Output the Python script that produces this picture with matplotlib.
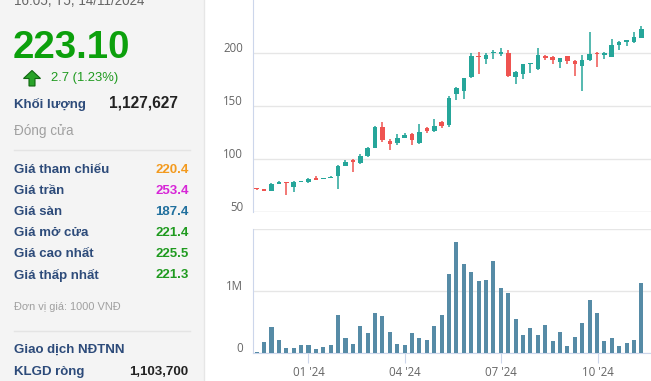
import matplotlib
matplotlib.use("Agg")
import matplotlib.pyplot as plt
import matplotlib.dates as mdates
from matplotlib.patches import Rectangle, Polygon
from matplotlib.transforms import ScaledTranslation
import pandas as pd
import numpy as np

plt.rcParams['font.family'] = ['Liberation Sans', 'DejaVu Sans']

# --- Datos semanales ---
fechas = pd.date_range('2023-11-13', periods=53, freq='7D')

aperturas = [72.5, 71.5, 69.5, 76.5, 78, 74, 78, 78, 82.5, 81.5, 82, 83.5, 93, 99, 96,
             102.5, 110, 130.5, 117, 115, 120, 123.5, 115.5, 129.5, 126, 134.5, 132.5,
             161.5, 164.5, 177, 197.5, 194.5, 200, 199.5, 200, 177.5, 180.5, 189.5,
             184.5, 197.5, 196, 191.5, 197, 192, 188, 193, 200, 198, 196.5, 208, 210,
             210, 214.5]
cierres = [71.5, 70, 76.5, 78, 77, 78.5, 78.5, 81.5, 80.5, 82, 83, 93.5, 97, 97, 103,
           110.5, 130.5, 118, 114.5, 120, 123, 117.5, 125.5, 126.5, 131.5, 131, 157.5,
           167, 176, 197, 196.5, 198.5, 201, 201, 178.5, 182, 189.5, 190, 198, 195.5,
           193.5, 195, 192.5, 189.5, 193, 199.5, 198.8, 200, 208, 210, 212, 215.5, 223.1]
maximos = [73, 72, 77, 79.5, 78.5, 79.5, 78.5, 82, 83.5, 82, 83.5, 94, 99, 100, 105,
           111.5, 131, 135, 119, 124, 124.5, 125, 133, 130, 138, 136, 159, 167.5, 176.5,
           200, 201, 200, 203, 205, 203, 183, 190, 190.5, 205, 198, 197, 195.5, 197.5,
           193, 198.5, 219.5, 200.5, 200.5, 213, 211.5, 212.5, 219.5, 225.5]
minimos = [71, 69.5, 69.5, 76, 66.5, 69, 78, 77.5, 80, 81, 82, 72, 93, 88, 95, 102, 110,
           116, 108.5, 113, 119.5, 113, 114.5, 125, 125.5, 129.5, 130.5, 156, 157, 176,
           180, 190, 194.5, 197.5, 177, 171, 175.5, 181, 184, 193.5, 189.5, 186, 189.5,
           178.5, 164.5, 192.5, 187, 194, 196, 203, 207, 209.5, 214]
volumen_m = [0.02, 0.18, 0.42, 0.205, 0.076, 0.076, 0.124, 0.124, 0.06, 0.09, 0.124,
             0.61, 0.24, 0.146, 0.43, 0.32, 0.643, 0.60, 0.335, 0.14, 0.124, 0.32, 0.24,
             0.205, 0.43, 0.61, 1.27, 1.79, 1.44, 1.30, 1.16, 1.18, 1.48, 1.05, 0.97,
             0.54, 0.29, 0.40, 0.29, 0.45, 0.19, 0.34, 0.11, 0.26, 0.48, 0.855, 0.645,
             0.19, 0.24, 0.11, 0.16, 0.21, 1.128]

etiquetas_mes = ["01 '24", "04 '24", "07 '24", "10 '24"]
fechas_mes = pd.to_datetime(['2024-01-01', '2024-04-01', '2024-07-01', '2024-10-01'])

filas = [("Giá tham chiếu", "220.4", "#f39a1e"),
         ("Giá trần", "253.4", "#d726d7"),
         ("Giá sàn", "187.4", "#21709e"),
         ("Giá mở cửa", "221.4", "#1f9a1f"),
         ("Giá cao nhất", "225.5", "#1f9a1f"),
         ("Giá thấp nhất", "221.3", "#1f9a1f")]

# --- Figura ---
W, H = 651, 381
fig = plt.figure(figsize=(W / 100, H / 100), dpi=100)
fig.patch.set_facecolor('white')


def fx(px):
    return px / W


def fy(py):
    return 1 - py / H


def pt(px):
    return px * 0.72


# panel izquierdo
fig.patches.append(Rectangle((0, 0), fx(204), 1, transform=fig.transFigure,
                             facecolor='#f4f4f4', edgecolor='none', zorder=0))
fig.lines.append(plt.Line2D([fx(204), fx(204)], [0, 1], transform=fig.transFigure,
                            color='#e6e6e6', lw=1))

azul = '#2d4b7a'
fig.text(fx(14), fy(5), "16:05, T5, 14/11/2024", fontsize=pt(13.5), color='#666666',
         va='baseline')
fig.text(fx(12.5), fy(58.5), "223.10", fontsize=pt(38.5), color='#0ca00c', va='baseline',
         fontweight='bold')

flecha = [(23.5, 78.5), (32, 70.5), (40.5, 78.5), (35, 78.5), (35, 86), (29, 86), (29, 78.5)]
fig.patches.append(Polygon([(fx(a), fy(b)) for a, b in flecha], closed=True,
                           transform=fig.transFigure, facecolor='#29a329',
                           edgecolor='#116611', lw=0.8))
fig.text(fx(50.5), fy(77.5), "2.7 (1.23%)", fontsize=pt(13), color='#1f9a1f', va='center')

fig.text(fx(14), fy(104), "Khối lượng", fontsize=pt(13.3), color=azul, va='center',
         fontweight='bold')
fig.text(fx(178), fy(103), "1,127,627", fontsize=pt(15.5), color='#222222', va='center',
         ha='right', fontweight='bold')
fig.text(fx(14), fy(131), "Đóng cửa", fontsize=pt(13.5), color='#a0a0a0', va='center')
fig.lines.append(plt.Line2D([fx(14), fx(190)], [fy(149.5)] * 2, transform=fig.transFigure,
                            color='#e4e4e4', lw=1))

for k, (nombre, valor, color) in enumerate(filas):
    yy = 170.5 + k * 20.9
    fig.text(fx(14), fy(yy), nombre, fontsize=pt(13.2), color=azul, va='center',
             fontweight='bold')
    fig.text(fx(188.5), fy(yy), valor, fontsize=pt(13.2), color=color, va='center',
             ha='right', fontweight='bold')

fig.text(fx(14), fy(307), "Đơn vị giá: 1000 VNĐ", fontsize=pt(11), color='#a0a0a0', va='center')
fig.lines.append(plt.Line2D([fx(14), fx(190)], [fy(331)] * 2, transform=fig.transFigure,
                            color='#e4e4e4', lw=1))
fig.text(fx(14), fy(350), "Giao dịch NĐTNN", fontsize=pt(13.2), color=azul, va='center',
         fontweight='bold')
fig.text(fx(14), fy(372), "KLGD ròng", fontsize=pt(13.2), color=azul, va='center',
         fontweight='bold')
fig.text(fx(188.5), fy(372), "1,103,700", fontsize=pt(13.2), color='#222222', va='center',
         ha='right', fontweight='bold')

# --- Gráfico de velas ---
x = mdates.date2num(fechas)
semana = 7.0
xmin = x[0] - 0.54 * semana
xmax = x[0] + 53.3 * semana

ax_p = fig.add_axes([fx(252.7), fy(212), 1 - fx(252.7), 212 / H])
ax_v = fig.add_axes([fx(252.7), fy(353), 1 - fx(252.7), (353 - 228.7) / H])

verde, rojo = '#26a69a', '#ef5350'
ab = np.array(aperturas)
ci = np.array(cierres)
colores = np.where(ci >= ab, verde, rojo)
ax_p.vlines(x, minimos, maximos, colors=colores, lw=1.1, zorder=3)
cuerpo = np.maximum(np.abs(ci - ab), 0.8)
ax_p.bar(x, cuerpo, bottom=np.minimum(ab, ci), width=0.62 * semana, color=colores,
         zorder=4, linewidth=0)

ax_v.bar(x, np.array(volumen_m) * 1e6, width=0.55 * semana, color='#568ba6', zorder=3,
         linewidth=0)

gris_eje = '#ccd6eb'
gris_rej = '#e6e6e6'
for ax in (ax_p, ax_v):
    ax.set_xlim(xmin, xmax)
    ax.set_facecolor('white')
    for s in ('top', 'right', 'bottom'):
        ax.spines[s].set_visible(False)
    ax.spines['left'].set_color(gris_eje)
    ax.grid(axis='y', color=gris_rej, lw=1)
    ax.set_axisbelow(True)
    ax.tick_params(axis='y', length=0, pad=7, labelsize=8.3, labelcolor='#666666')

ax_p.set_ylim(50, 250)
ax_p.set_yticks([50, 100, 150, 200])
ax_p.set_xticks([])
ax_p.axhline(50, color=gris_rej, lw=1, zorder=1)

ax_v.set_ylim(0, 2e6)
ax_v.set_yticks([0, 1e6])
ax_v.set_yticklabels(['0', '1M'])
ax_v.axhline(2e6, color=gris_rej, lw=1)
ax_v.spines['bottom'].set_visible(True)
ax_v.spines['bottom'].set_color(gris_eje)
ax_v.set_xticks(mdates.date2num(fechas_mes))
ax_v.set_xticklabels(etiquetas_mes)
ax_v.tick_params(axis='x', length=7, color=gris_eje, pad=2, labelsize=8.3,
                 labelcolor='#666666')

desplazo = ScaledTranslation(0, 6 / 100, fig.dpi_scale_trans)
for ax in (ax_p, ax_v):
    for lab in ax.get_yticklabels():
        lab.set_fontfamily(['Open Sans', 'DejaVu Sans'])
        lab.set_transform(lab.get_transform() + desplazo)
for lab in ax_v.get_xticklabels():
    lab.set_fontfamily(['Open Sans', 'DejaVu Sans'])

fig.savefig('out.png', dpi=100)
